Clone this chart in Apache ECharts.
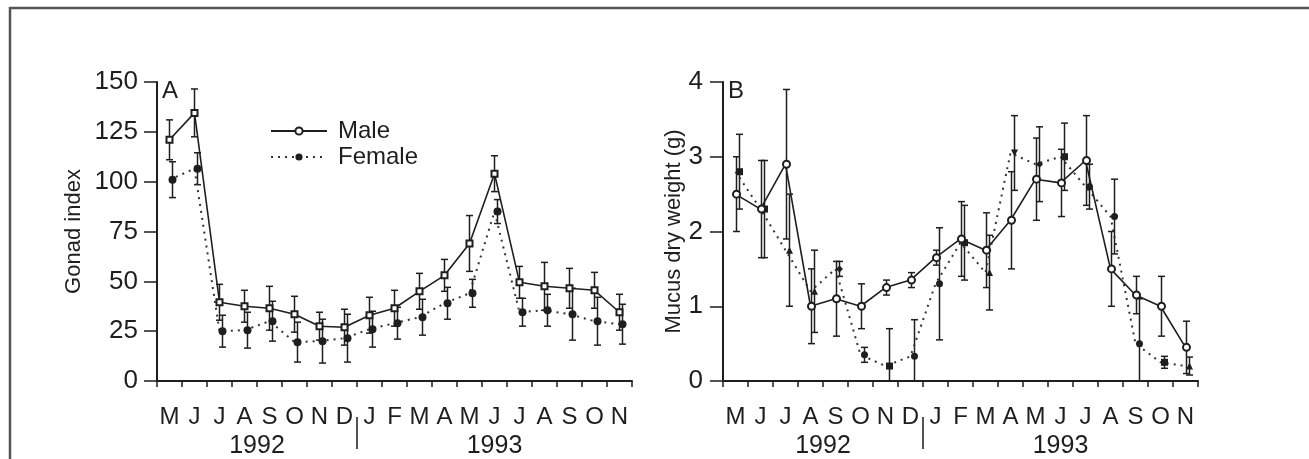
<!DOCTYPE html>
<html><head><meta charset="utf-8">
<script src="https://cdn.jsdelivr.net/npm/echarts@6/dist/echarts.min.js"></script>
<style>html,body{margin:0;padding:0;background:#fff}#c{width:1309px;height:459px}</style>
</head><body><div id="c"></div>
<script>
// ---- data ----
const months = ['M','J','J','A','S','O','N','D','J','F','M','A','M','J','J','A','S','O','N'];
const years = ['1992','1993'];
const yearMonthCounts = [8, 11];

const gonadYTicks = [0, 150, 25];
const mucusYTicks = [0, 4, 1];

const gonadMale      = [121, 134.5, 39.5, 37.5, 36.5, 33.5, 27.5, 27, 33, 36.5, 45, 53, 69, 104, 49.5, 47.5, 46.5, 45.5, 34.5];
const gonadMaleErr   = [10, 12, 9, 8, 11, 9, 7, 9, 9, 9, 9, 8, 14, 9, 8, 12, 10, 9, 9];
const gonadFemale    = [101, 106.5, 25, 25.5, 30, 19.5, 20, 21.5, 26, 29, 32, 39, 44, 85, 34.5, 35.5, 33.5, 30, 28.5];
const gonadFemaleErr = [9, 8, 8, 9, 10, 10, 11, 12, 9, 8, 9, 8, 7, 6, 7, 8, 13, 12, 10];

const mucusMale      = [2.5, 2.3, 2.9, 1.0, 1.1, 1.0, 1.25, 1.35, 1.65, 1.9, 1.75, 2.15, 2.7, 2.65, 2.95, 1.5, 1.15, 1.0, 0.45];
const mucusMaleErr   = [0.5, 0.65, 1.0, 0.5, 0.5, 0.3, 0.1, 0.1, 0.1, 0.5, 0.5, 0.65, 0.55, 0.45, 0.6, 0.5, 0.25, 0.4, 0.35];
const mucusFemale    = [2.8, 2.3, 1.75, 1.2, 1.5, 0.35, 0.2, 0.33, 1.3, 1.85, 1.45, 3.05, 2.9, 3.0, 2.6, 2.2, 0.5, 0.25, 0.2];
const mucusFemaleErr = [0.5, 0.65, 0.75, 0.55, 0.1, 0.1, 0.5, 0.49, 0.75, 0.5, 0.5, 0.5, 0.5, 0.45, 0.3, 0.5, 0.6, 0.08, 0.12];

// styles (not data)
const mucusFemaleSymbols = ['rect','rect','triangle','triangle','diamond','circle','rect','circle','circle','rect','triangle','path://M0,0 L10,0 L5,9 Z','diamond','rect','circle','circle','circle','rect','triangle'];

const FONT = '"Liberation Sans", Arial, sans-serif';
const INK = '#1e1e1e';

// year axis helpers derived from month counts
const yearBounds = [];
const yearMids = [];
let acc = 0;
yearMonthCounts.forEach((n, k) => { yearMids.push(acc + n / 2); acc += n; if (k < yearMonthCounts.length - 1) yearBounds.push(acc); });

function errRender(offset) {
  return function (params, api) {
    const i = api.value(0), v = api.value(1), e = api.value(2);
    const low = v - e;
    const pTop = api.coord([i, v + e]);
    const pBot = api.coord([i, Math.max(0, low)]);
    const x = pTop[0] + offset;
    const cap = 3.5;
    const st = { stroke: INK, lineWidth: 1.5 };
    const ch = [
      { type: 'line', shape: { x1: x, y1: pTop[1], x2: x, y2: pBot[1] }, style: st },
      { type: 'line', shape: { x1: x - cap, y1: pTop[1], x2: x + cap, y2: pTop[1] }, style: st }
    ];
    if (low > 0) ch.push({ type: 'line', shape: { x1: x - cap, y1: pBot[1], x2: x + cap, y2: pBot[1] }, style: st });
    return { type: 'group', children: ch };
  };
}
const triples = (vals, errs) => vals.map((v, i) => [i, v, errs[i]]);

const grids = [
  { left: 157, top: 82, width: 475, height: 301 },
  { left: 723, top: 82, width: 475, height: 301 }
];

function monthAxis(g) {
  return {
    type: 'category', gridIndex: g, data: months, boundaryGap: true,
    axisLine: { lineStyle: { color: INK, width: 2 } },
    axisTick: { show: true, length: 6, lineStyle: { color: INK, width: 1.5 } },
    axisLabel: { interval: 0, color: INK, fontSize: 24, fontFamily: FONT, margin: 24 },
    splitLine: { show: false }
  };
}
function yearAxis(g) {
  return {
    type: 'value', gridIndex: g, min: 0, max: months.length, position: 'bottom', offset: 36,
    axisLine: { show: false },
    axisTick: { show: true, customValues: yearBounds, length: 32, lineStyle: { color: INK, width: 1.5 } },
    axisLabel: { show: true, customValues: yearMids, formatter: v => years[yearMids.indexOf(v)], color: INK, fontSize: 25, fontFamily: FONT, margin: 17 },
    splitLine: { show: false }
  };
}
function yAxis(g, t, name, gap, margin) {
  return {
    type: 'value', gridIndex: g, min: t[0], max: t[1], interval: t[2],
    name: name, nameLocation: 'middle', nameGap: gap,
    nameTextStyle: { fontSize: 22, color: INK, fontFamily: FONT },
    axisLine: { show: true, lineStyle: { color: INK, width: 2 } },
    axisTick: { show: true, length: 13, lineStyle: { color: INK, width: 1.5 } },
    axisLabel: { color: INK, fontSize: 26, fontFamily: FONT, margin: margin },
    splitLine: { show: false }
  };
}

const maleLine = { color: INK, width: 1.6 };
const femaleLine = { color: '#333', width: 2, type: [2, 5] };

const option = {
  backgroundColor: '#fff',
  animation: false,
  grid: grids,
  xAxis: [monthAxis(0), yearAxis(0), monthAxis(1), yearAxis(1)],
  yAxis: [yAxis(0, gonadYTicks, 'Gonad index', 72, 19), yAxis(1, mucusYTicks, 'Mucus dry weight (g)', 37, 20)],
  title: [
    { text: 'A', left: 162, top: 79, padding: 0, textStyle: { fontSize: 24, fontWeight: 'normal', color: INK, fontFamily: FONT } },
    { text: 'B', left: 728, top: 79, padding: 0, textStyle: { fontSize: 24, fontWeight: 'normal', color: INK, fontFamily: FONT } }
  ],
  legend: {
    data: ['Male', 'Female'], orient: 'vertical', left: 270, top: 119, padding: 0,
    itemWidth: 56, itemHeight: 9, itemGap: 2,
    textStyle: { fontSize: 24, color: INK, fontFamily: FONT, padding: [0, 0, 0, 6] },
    selectedMode: false
  },
  graphic: [
    { type: 'rect', shape: { x: 10, y: 8, width: 1400, height: 600 }, style: { fill: 'none', stroke: '#555', lineWidth: 2.5 }, silent: true }
  ],
  series: [
    // legend entries
    { name: 'Male', type: 'line', xAxisIndex: 0, yAxisIndex: 0, data: [], symbol: 'emptyCircle', symbolSize: 6, lineStyle: maleLine, itemStyle: { color: INK, borderWidth: 1.5 } },
    { name: 'Female', type: 'line', xAxisIndex: 0, yAxisIndex: 0, data: [], symbol: 'circle', symbolSize: 8, lineStyle: femaleLine, itemStyle: { color: INK } },
    // Panel A
    { name: 'A male err', type: 'custom', xAxisIndex: 0, yAxisIndex: 0, renderItem: errRender(0), data: triples(gonadMale, gonadMaleErr), z: 2 },
    { name: 'A female err', type: 'custom', xAxisIndex: 0, yAxisIndex: 0, renderItem: errRender(3), data: triples(gonadFemale, gonadFemaleErr), z: 2 },
    { name: 'A female', type: 'line', xAxisIndex: 0, yAxisIndex: 0, data: gonadFemale, symbol: 'circle', symbolSize: 8, symbolOffset: [3, 0], lineStyle: femaleLine, itemStyle: { color: INK }, z: 3 },
    { name: 'A male', type: 'line', xAxisIndex: 0, yAxisIndex: 0, data: gonadMale, symbol: 'emptyRect', symbolSize: 6, lineStyle: maleLine, itemStyle: { color: INK, borderWidth: 1.5 }, z: 4 },
    // Panel B
    { name: 'B male err', type: 'custom', xAxisIndex: 2, yAxisIndex: 1, renderItem: errRender(1), data: triples(mucusMale, mucusMaleErr), z: 2 },
    { name: 'B female err', type: 'custom', xAxisIndex: 2, yAxisIndex: 1, renderItem: errRender(4), data: triples(mucusFemale, mucusFemaleErr), z: 2 },
    { name: 'B female', type: 'line', xAxisIndex: 2, yAxisIndex: 1,
      data: mucusFemale.map((v, i) => ({ value: v, symbol: mucusFemaleSymbols[i] })),
      symbolSize: 7, symbolOffset: [4, 0], lineStyle: femaleLine, itemStyle: { color: INK }, z: 3 },
    { name: 'B male', type: 'line', xAxisIndex: 2, yAxisIndex: 1, data: mucusMale, symbol: 'emptyCircle', symbolSize: 7, symbolOffset: [1, 0], lineStyle: maleLine, itemStyle: { color: INK, borderWidth: 1.5 }, z: 4 }
  ]
};

const chart = echarts.init(document.getElementById('c'), null, { renderer: 'canvas' });
chart.setOption(option);
</script>
</body></html>
